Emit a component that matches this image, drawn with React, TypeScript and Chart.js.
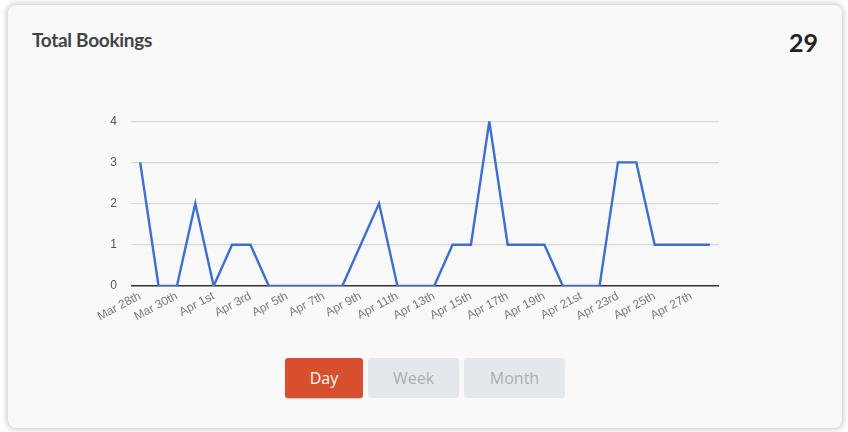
import React, { useEffect, useRef } from "react";
import { Chart, registerables } from "chart.js";

Chart.register(...registerables);

const dayLabels: string[] = [
  "Mar 28th", "Mar 29th", "Mar 30th", "Mar 31st", "Apr 1st", "Apr 2nd", "Apr 3rd", "Apr 4th",
  "Apr 5th", "Apr 6th", "Apr 7th", "Apr 8th", "Apr 9th", "Apr 10th", "Apr 11th", "Apr 12th",
  "Apr 13th", "Apr 14th", "Apr 15th", "Apr 16th", "Apr 17th", "Apr 18th", "Apr 19th", "Apr 20th",
  "Apr 21st", "Apr 22nd", "Apr 23rd", "Apr 24th", "Apr 25th", "Apr 26th", "Apr 27th", "Apr 28th",
];
const bookings: number[] = [
  3, 0, 0, 2, 0, 1, 1, 0,
  0, 0, 0, 0, 1, 2, 0, 0,
  0, 1, 1, 4, 1, 1, 1, 0,
  0, 0, 3, 3, 1, 1, 1, 1,
];
const yTicks: number[] = [0, 1, 2, 3, 4];
const totalLabel = "29";
const periodButtons: string[] = ["Day", "Week", "Month"];

export default function App() {
  const canvasRef = useRef<HTMLCanvasElement | null>(null);

  useEffect(() => {
    document.body.style.margin = "0";
    document.body.style.background = "#ffffff";
    const canvas = canvasRef.current;
    if (!canvas) return;
    const chart = new Chart(canvas, {
      type: "line",
      data: {
        labels: dayLabels,
        datasets: [
          {
            data: bookings,
            borderColor: "#3b6fd3",
            borderWidth: 2.4,
            pointRadius: 0,
            pointHoverRadius: 0,
            fill: false,
            tension: 0,
          },
        ],
      },
      options: {
        animation: false,
        responsive: false,
        maintainAspectRatio: false,
        layout: { padding: { left: 0, right: 21, top: 15, bottom: 0 } },
        plugins: { legend: { display: false }, tooltip: { enabled: false } },
        scales: {
          x: {
            offset: true,
            grid: { display: false, drawTicks: false },
            border: { display: false },
            ticks: {
              autoSkip: false,
              minRotation: 28,
              maxRotation: 28,
              padding: 3,
              color: "#7a7a7a",
              font: { family: "'Liberation Sans', Arial, sans-serif", size: 12 },
              callback: (_v: any, i: number) => (i % 2 === 0 ? dayLabels[i] : ""),
            },
            afterFit: (s: any) => {
              s.height = 54;
            },
          },
          y: {
            min: 0,
            max: 4,
            afterBuildTicks: (s: any) => {
              s.ticks = yTicks.map((v) => ({ value: v }));
            },
            grid: {
              drawTicks: false,
              color: (c: any) => (c.tick && c.tick.value === 0 ? "#333333" : "#d8d8d8"),
              lineWidth: (c: any) => (c.tick && c.tick.value === 0 ? 1.5 : 1.3),
            },
            border: { display: false },
            ticks: {
              padding: 14,
              color: "#555555",
              font: { family: "'Liberation Sans', Arial, sans-serif", size: 12 },
            },
            afterFit: (s: any) => {
              s.width = 41;
            },
          },
        },
      },
    });
    return () => chart.destroy();
  }, []);

  const btnBase: React.CSSProperties = {
    position: "absolute",
    top: 358,
    height: 40,
    borderRadius: 3,
    display: "flex",
    alignItems: "center",
    justifyContent: "center",
    fontFamily: "'Open Sans', sans-serif",
    fontSize: 16,
  };
  const btnPos = [
    { left: 285, width: 78 },
    { left: 368, width: 91 },
    { left: 464, width: 101 },
  ];

  return (
    <div style={{ position: "relative", width: 848, height: 432, overflow: "hidden", background: "#ffffff" }}>
      <div
        style={{
          position: "absolute",
          left: 8,
          top: 5,
          width: 834,
          height: 423,
          background: "#f9f9f9",
          borderRadius: 8,
          boxShadow: "0 0 5px 2px rgba(0,0,0,0.18)",
        }}
      />
      <div
        style={{
          position: "absolute",
          left: 32,
          top: 28,
          fontFamily: "Lato, sans-serif",
          fontWeight: 700,
          fontSize: 19,
          color: "#444444",
          letterSpacing: -0.3,
        }}
      >
        Total Bookings
      </div>
      <div
        style={{
          position: "absolute",
          right: 30,
          top: 27,
          fontFamily: "Lato, sans-serif",
          fontWeight: 700,
          fontSize: 25,
          color: "#222222",
        }}
      >
        {totalLabel}
      </div>
      <canvas
        ref={canvasRef}
        width={650}
        height={240}
        style={{ position: "absolute", left: 90, top: 100, width: 650, height: 240 }}
      />
      {periodButtons.map((b, i) => (
        <div
          key={b}
          style={{
            ...btnBase,
            ...btnPos[i],
            background: i === 0 ? "#d84f2e" : "#e4e8ec",
            color: i === 0 ? "#ffffff" : "#a8afb6",
            boxShadow: i === 0 ? "0 1px 1px rgba(0,0,0,0.2)" : "none",
          }}
        >
          {b}
        </div>
      ))}
    </div>
  );
}
